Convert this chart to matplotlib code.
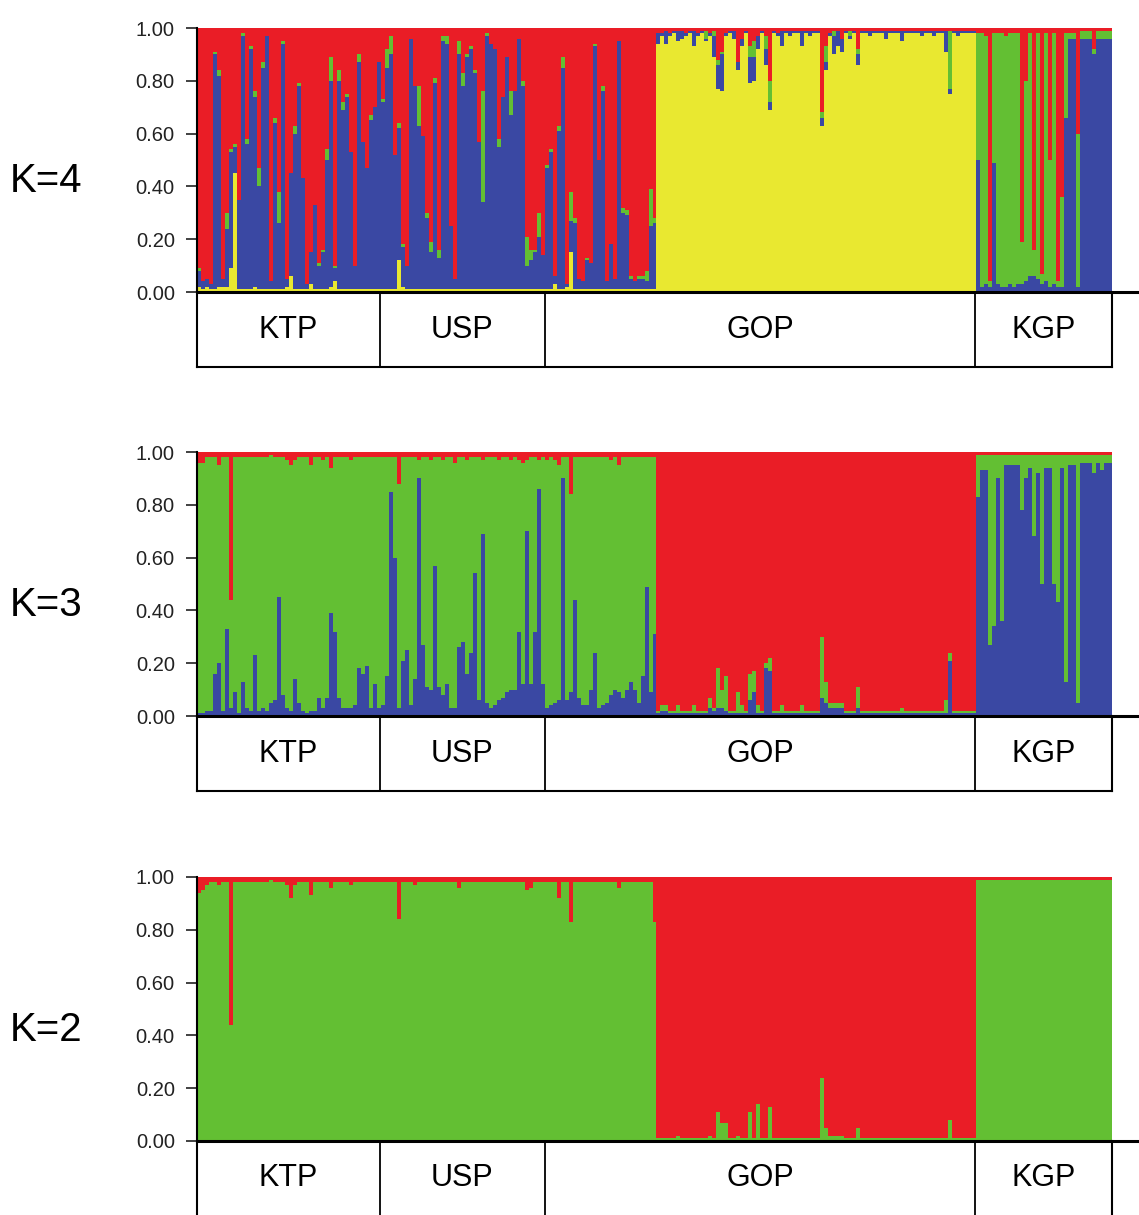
import matplotlib.pyplot as plt
import numpy as np

# population labels under the bars and where their boxes start/end (in individual units)
groups = ['KTP', 'USP', 'GOP', 'KGP']
group_edges = [0, 45.75, 87, 194.75, 229]
panel_names = ['K=4', 'K=3', 'K=2']
yticks = [0.0, 0.2, 0.4, 0.6, 0.8, 1.0]

red = '#ea1d26'
green = '#63bf33'
blue = '#3a48a3'
yellow = '#e9e830'

# membership (%) per individual
# K=4 : yellow, blue, green stacked from the bottom, red takes the rest
k4_yellow = [
    2, 1, 2, 1, 1, 2, 2, 2, 9, 45, 1, 1, 1, 1, 2, 1, 1, 1, 1, 1,
    1, 1, 2, 6, 1, 1, 1, 1, 3, 1, 1, 1, 1, 2, 4, 1, 1, 1, 1, 1,
    1, 1, 1, 1, 1, 1, 1, 1, 1, 1, 12, 2, 1, 1, 1, 1, 1, 1, 1, 1,
    1, 1, 1, 1, 1, 1, 1, 1, 1, 1, 1, 1, 1, 1, 1, 1, 1, 1, 1, 1,
    1, 1, 1, 1, 1, 1, 1, 1, 1, 3, 1, 1, 2, 15, 1, 1, 1, 1, 1, 1,
    1, 1, 1, 1, 1, 1, 1, 1, 1, 1, 1, 1, 1, 1, 1,
    94, 97, 94, 97, 98, 95, 96, 97, 98, 93, 97, 98, 95, 97, 89, 77, 76, 97, 98, 96,
    84, 93, 98, 79, 80, 92, 98, 86, 69, 98, 97, 93, 98, 97, 98, 98, 93, 98, 97, 98,
    98, 63, 84, 97, 90, 93, 91, 98, 96, 98, 86, 98, 98, 97, 98, 98, 98, 96, 98, 98,
    98, 95, 98, 98, 98, 98, 97, 98, 98, 97, 98, 98, 91, 75, 98, 97, 98, 98, 98, 98,
    0, 0, 0, 0, 0, 0, 0, 0, 0, 0, 0, 0, 0, 0, 0, 0, 0, 0, 0, 0,
    0, 0, 0, 0, 0, 0, 0, 0, 0, 0, 0, 0, 0, 0,
]
k4_blue = [
    6, 3, 3, 2, 89, 80, 3, 22, 44, 10, 34, 96, 55, 91, 72, 39, 84, 96, 3, 63,
    25, 93, 3, 39, 59, 77, 42, 2, 12, 32, 9, 14, 49, 78, 5, 79, 68, 73, 52, 9,
    86, 56, 46, 64, 69, 86, 71, 84, 89, 51, 50, 15, 9, 95, 77, 62, 58, 27, 14, 78,
    12, 94, 93, 24, 4, 89, 77, 88, 91, 82, 56, 33, 96, 93, 91, 54, 73, 88, 66, 75,
    95, 77, 9, 11, 14, 20, 13, 46, 52, 3, 60, 84, 1, 12, 25, 4, 3, 11, 10, 92,
    49, 75, 3, 17, 4, 94, 29, 28, 4, 3, 4, 4, 3, 24, 25,
    4, 1, 5, 1, 1, 4, 3, 1, 1, 6, 1, 1, 1, 1, 8, 9, 14, 1, 1, 3,
    3, 3, 1, 10, 9, 5, 1, 6, 3, 1, 1, 6, 1, 2, 1, 1, 6, 1, 2, 1,
    1, 3, 3, 1, 7, 6, 5, 1, 1, 1, 4, 1, 1, 2, 1, 1, 1, 3, 1, 1,
    1, 4, 1, 1, 1, 1, 2, 1, 1, 2, 1, 1, 8, 2, 1, 2, 1, 1, 1, 1,
    50, 2, 3, 2, 49, 3, 2, 2, 3, 2, 3, 3, 4, 6, 6, 5, 3, 4, 2, 3,
    2, 2, 66, 96, 96, 2, 96, 96, 96, 90, 96, 96, 96, 96,
]
k4_green = [
    1, 0, 0, 0, 1, 2, 0, 6, 1, 1, 0, 1, 2, 1, 2, 7, 2, 0, 0, 2,
    12, 1, 0, 0, 3, 1, 0, 0, 0, 0, 1, 1, 4, 9, 1, 4, 3, 1, 0, 0,
    3, 0, 0, 2, 0, 0, 1, 7, 7, 0, 2, 1, 0, 0, 0, 15, 0, 2, 4, 2,
    3, 2, 3, 0, 0, 5, 5, 1, 1, 1, 0, 42, 1, 0, 0, 3, 0, 0, 9, 0,
    0, 2, 11, 4, 1, 9, 0, 1, 1, 0, 2, 4, 0, 11, 2, 0, 0, 1, 0, 1,
    0, 2, 0, 0, 0, 0, 2, 2, 1, 0, 1, 1, 4, 14, 2,
    0, 0, 0, 0, 0, 0, 0, 0, 0, 0, 0, 0, 3, 0, 2, 2, 1, 0, 0, 0,
    0, 0, 0, 4, 6, 0, 0, 5, 8, 0, 0, 0, 0, 0, 0, 0, 0, 0, 0, 0,
    0, 2, 6, 0, 2, 0, 0, 0, 2, 0, 2, 0, 0, 0, 0, 0, 0, 0, 0, 0,
    0, 0, 0, 0, 0, 0, 0, 0, 0, 0, 0, 0, 0, 22, 0, 0, 0, 0, 0, 0,
    48, 96, 94, 2, 49, 95, 96, 95, 95, 96, 95, 16, 76, 92, 10, 93, 4, 94, 48, 95,
    2, 34, 32, 2, 2, 58, 3, 3, 3, 2, 3, 3, 3, 3,
]

# K=3 : blue at the bottom, red on top, green in between
k3_blue = [
    1, 1, 2, 2, 16, 20, 2, 33, 3, 9, 1, 13, 3, 2, 23, 2, 3, 2, 5, 6,
    45, 8, 3, 2, 14, 5, 2, 1, 2, 2, 7, 3, 7, 39, 32, 7, 3, 3, 3, 4,
    18, 16, 19, 3, 12, 3, 4, 15, 85, 60, 3, 21, 25, 4, 14, 90, 27, 11, 10, 57,
    11, 8, 12, 3, 3, 26, 28, 16, 24, 54, 6, 69, 5, 3, 4, 6, 7, 9, 10, 10,
    32, 12, 70, 12, 32, 86, 12, 3, 4, 5, 6, 90, 6, 9, 44, 7, 4, 4, 10, 24,
    3, 4, 5, 8, 10, 9, 7, 10, 13, 10, 5, 15, 49, 9, 31,
    1, 2, 2, 1, 1, 1, 1, 1, 1, 1, 1, 1, 1, 3, 2, 3, 3, 2, 1, 1,
    1, 1, 1, 6, 9, 1, 1, 18, 17, 1, 1, 1, 1, 1, 1, 1, 1, 1, 1, 1,
    1, 7, 5, 3, 3, 3, 3, 1, 1, 1, 3, 1, 1, 1, 1, 1, 1, 1, 1, 1,
    1, 1, 1, 1, 1, 1, 1, 1, 1, 1, 1, 1, 1, 21, 1, 1, 1, 1, 1, 1,
    83, 93, 93, 27, 34, 90, 36, 95, 95, 95, 95, 78, 90, 94, 68, 92, 50, 94, 94, 50,
    43, 94, 13, 95, 95, 5, 96, 96, 96, 92, 96, 93, 96, 96,
]
k3_red = [
    4, 4, 2, 2, 2, 5, 2, 2, 56, 2, 2, 2, 2, 2, 2, 2, 2, 2, 1, 2,
    2, 2, 3, 5, 3, 2, 2, 2, 5, 2, 2, 3, 2, 6, 2, 2, 2, 2, 3, 2,
    2, 2, 2, 2, 2, 2, 2, 2, 2, 2, 12, 2, 2, 2, 2, 3, 2, 2, 3, 2,
    2, 3, 2, 2, 4, 2, 2, 3, 2, 2, 2, 3, 2, 2, 2, 3, 2, 2, 3, 2,
    3, 4, 3, 2, 2, 3, 2, 3, 2, 3, 5, 2, 2, 16, 2, 2, 2, 2, 2, 2,
    2, 2, 2, 3, 2, 5, 2, 2, 2, 2, 2, 2, 2, 2, 2,
    98, 96, 96, 98, 98, 96, 98, 98, 98, 96, 98, 98, 98, 93, 97, 82, 90, 85, 98, 98,
    91, 96, 98, 84, 83, 96, 98, 80, 78, 98, 98, 96, 98, 98, 98, 98, 96, 98, 98, 98,
    98, 70, 87, 95, 95, 95, 95, 98, 98, 98, 89, 98, 98, 98, 98, 98, 98, 98, 98, 98,
    98, 97, 98, 98, 98, 98, 98, 98, 98, 98, 98, 98, 94, 76, 98, 98, 98, 98, 98, 98,
    1, 1, 1, 1, 1, 1, 1, 1, 1, 1, 1, 1, 1, 1, 1, 1, 1, 1, 1, 1,
    1, 1, 1, 1, 1, 1, 1, 1, 1, 1, 1, 1, 1, 1,
]

# K=2 : green at the bottom, red on top
k2_red = [
    6, 5, 3, 2, 2, 3, 2, 2, 56, 2, 2, 2, 2, 2, 2, 2, 2, 2, 1, 2,
    2, 2, 3, 8, 3, 2, 2, 2, 7, 2, 2, 2, 2, 4, 2, 2, 2, 2, 3, 2,
    2, 2, 2, 2, 2, 2, 2, 2, 2, 2, 16, 2, 2, 2, 3, 2, 2, 2, 2, 2,
    2, 2, 2, 2, 2, 4, 2, 2, 2, 2, 2, 2, 2, 2, 2, 2, 2, 2, 2, 2,
    2, 2, 5, 4, 2, 2, 2, 2, 2, 2, 8, 2, 2, 17, 2, 2, 2, 2, 2, 2,
    2, 2, 2, 2, 2, 4, 2, 2, 2, 2, 2, 2, 2, 2, 17,
    99, 99, 99, 99, 99, 98, 99, 99, 99, 99, 99, 99, 99, 98, 99, 89, 93, 93, 99, 99,
    98, 99, 99, 89, 99, 86, 99, 99, 87, 99, 99, 99, 99, 99, 99, 99, 99, 99, 99, 99,
    99, 76, 95, 98, 98, 98, 98, 99, 99, 99, 95, 99, 99, 99, 99, 99, 99, 99, 99, 99,
    99, 99, 99, 99, 99, 99, 99, 99, 99, 99, 99, 99, 99, 92, 99, 99, 99, 99, 99, 99,
    1, 1, 1, 1, 1, 1, 1, 1, 1, 1, 1, 1, 1, 1, 1, 1, 1, 1, 1, 1,
    1, 1, 1, 1, 1, 1, 1, 1, 1, 1, 1, 1, 1, 1,
]

k4_yellow = np.array(k4_yellow) / 100
k4_blue = np.array(k4_blue) / 100
k4_green = np.array(k4_green) / 100
k4_red = 1 - k4_yellow - k4_blue - k4_green
k3_blue = np.array(k3_blue) / 100
k3_red = np.array(k3_red) / 100
k3_green = 1 - k3_blue - k3_red
k2_red = np.array(k2_red) / 100
k2_green = 1 - k2_red

panels = [
    [(k4_yellow, yellow), (k4_blue, blue), (k4_green, green), (k4_red, red)],
    [(k3_blue, blue), (k3_green, green), (k3_red, red)],
    [(k2_green, green), (k2_red, red)],
]

W, H = 1139, 1215
fig = plt.figure(figsize=(W / 100, H / 100), dpi=100)
label_font = ['Liberation Sans', 'DejaVu Sans']

n = len(k4_yellow)
x = np.arange(n) + 0.5
panel_top = [28, 452, 877]
panel_h = 264
box_h = 75
left, width = 197, 915

for j, layers in enumerate(panels):
    top = panel_top[j]
    ax = fig.add_axes([left / W, 1 - (top + panel_h) / H, width / W, panel_h / H])
    cum = np.zeros(n)
    for vals, col in layers:
        ax.bar(x, vals, bottom=cum, width=1.0, color=col, linewidth=0, antialiased=False)
        cum = cum + vals
    ax.set_xlim(0, n)
    ax.set_ylim(0, 1)
    ax.set_xticks([])
    ax.set_yticks(yticks)
    ax.set_yticklabels(['%.2f' % t for t in yticks], family='Liberation Sans', fontsize=14.5, color='#222222')
    ax.tick_params(axis='y', length=8, width=1.3, pad=8, color='#333333')
    for s in ['top', 'right', 'bottom']:
        ax.spines[s].set_visible(False)
    ax.spines['left'].set_linewidth(1.5)
    # baseline runs past the bars to the figure edge
    ax.plot([0, (W - left) / width], [0, 0], transform=ax.transAxes, color='black', lw=2.2, clip_on=False)

    bx = fig.add_axes([left / W, 1 - (top + panel_h + box_h) / H, width / W, box_h / H])
    bx.set_xlim(0, n)
    bx.set_ylim(0, 1)
    bx.set_xticks([])
    bx.set_yticks([])
    bx.patch.set_alpha(0)
    bx.spines['top'].set_visible(False)
    if j == 2:
        bx.spines['bottom'].set_visible(False)
    for s in ['left', 'right', 'bottom']:
        bx.spines[s].set_linewidth(1.5)
    for e in group_edges[1:-1]:
        bx.axvline(e, color='black', lw=1.3)
    for g in range(len(groups)):
        bx.text((group_edges[g] + group_edges[g + 1]) / 2, 0.5, groups[g], ha='center', va='center',
                fontsize=22, family=label_font)

    fig.text(46 / W, 1 - (top + 153) / H, panel_names[j], ha='center', va='center', fontsize=29, family=label_font)

fig.savefig('out.png', dpi=100)
